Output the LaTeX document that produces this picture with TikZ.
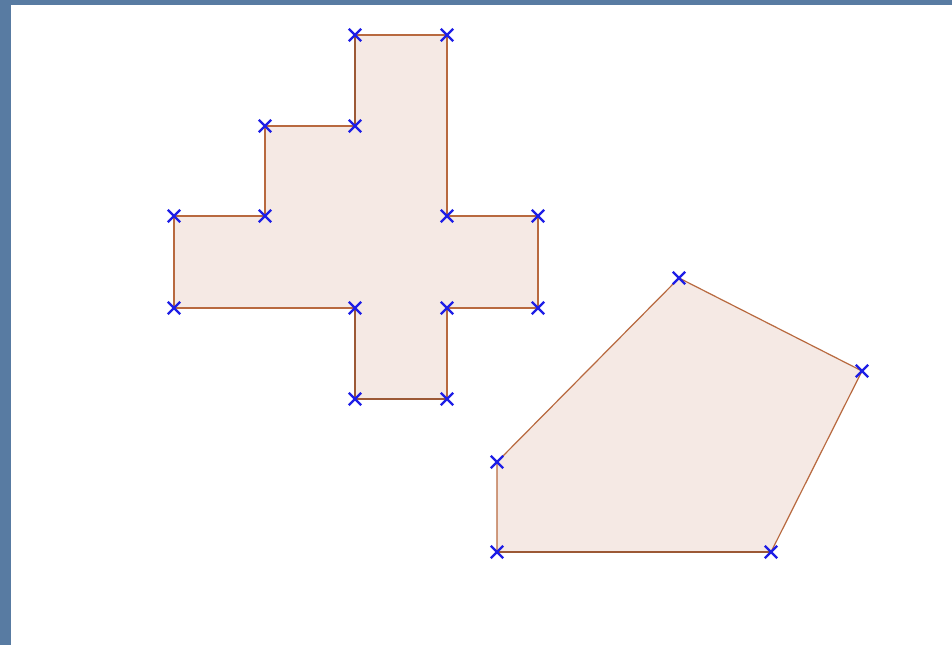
\documentclass[tikz,border=0pt]{standalone}
\usepackage{xcolor}
\usetikzlibrary{shapes.misc}
\definecolor{slate}{HTML}{587BA2}
\definecolor{shade}{HTML}{F5E9E4}
\definecolor{rust}{HTML}{B8693F}
\definecolor{markblue}{HTML}{1E1EE6}
\tikzset{
  face/.style={fill=shade, draw=rust, line width=0.9pt, line join=miter},
  heavy/.style={draw=rust!85!black, line width=1.6pt},
  vert/.style={cross out, draw=markblue, line width=1.8pt, minimum size=7.5pt, inner sep=0pt}
}
\begin{document}
\begin{tikzpicture}[x=0.75pt, y=-0.75pt]
\useasboundingbox (0,0) rectangle (952,645);
\fill[slate] (0,0) rectangle (952,645);
\fill[white] (11,5) rectangle (952,645);
% cross
\coordinate (c1) at (355,35);
\coordinate (c2) at (447,35);
\coordinate (c3) at (447,216);
\coordinate (c4) at (538,216);
\coordinate (c5) at (538,308);
\coordinate (c6) at (447,308);
\coordinate (c7) at (447,399);
\coordinate (c8) at (355,399);
\coordinate (c9) at (355,308);
\coordinate (c10) at (174,308);
\coordinate (c11) at (174,216);
\coordinate (c12) at (265,216);
\coordinate (c13) at (265,126);
\coordinate (c14) at (355,126);
\draw[face] (c1) -- (c2) -- (c3) -- (c4) -- (c5) -- (c6) -- (c7) -- (c8) -- (c9) -- (c10) -- (c11) -- (c12) -- (c13) -- (c14) -- cycle;
\draw[heavy] (c1) -- (c14);
\draw[heavy] (c9) -- (c8) -- (c7);
% pentagon
\coordinate (p1) at (679,278);
\coordinate (p2) at (862,371);
\coordinate (p3) at (771,552);
\coordinate (p4) at (497,552);
\coordinate (p5) at (497,462);
\draw[face] (p1) -- (p2) -- (p3) -- (p4) -- (p5) -- cycle;
\draw[heavy] (p3) -- (p4);
% marks
\foreach \v in {c1,c2,c3,c4,c5,c6,c7,c8,c9,c10,c11,c12,c13,c14,p1,p2,p3,p4,p5}
  \node[vert] at (\v) {};
\end{tikzpicture}
\end{document}
